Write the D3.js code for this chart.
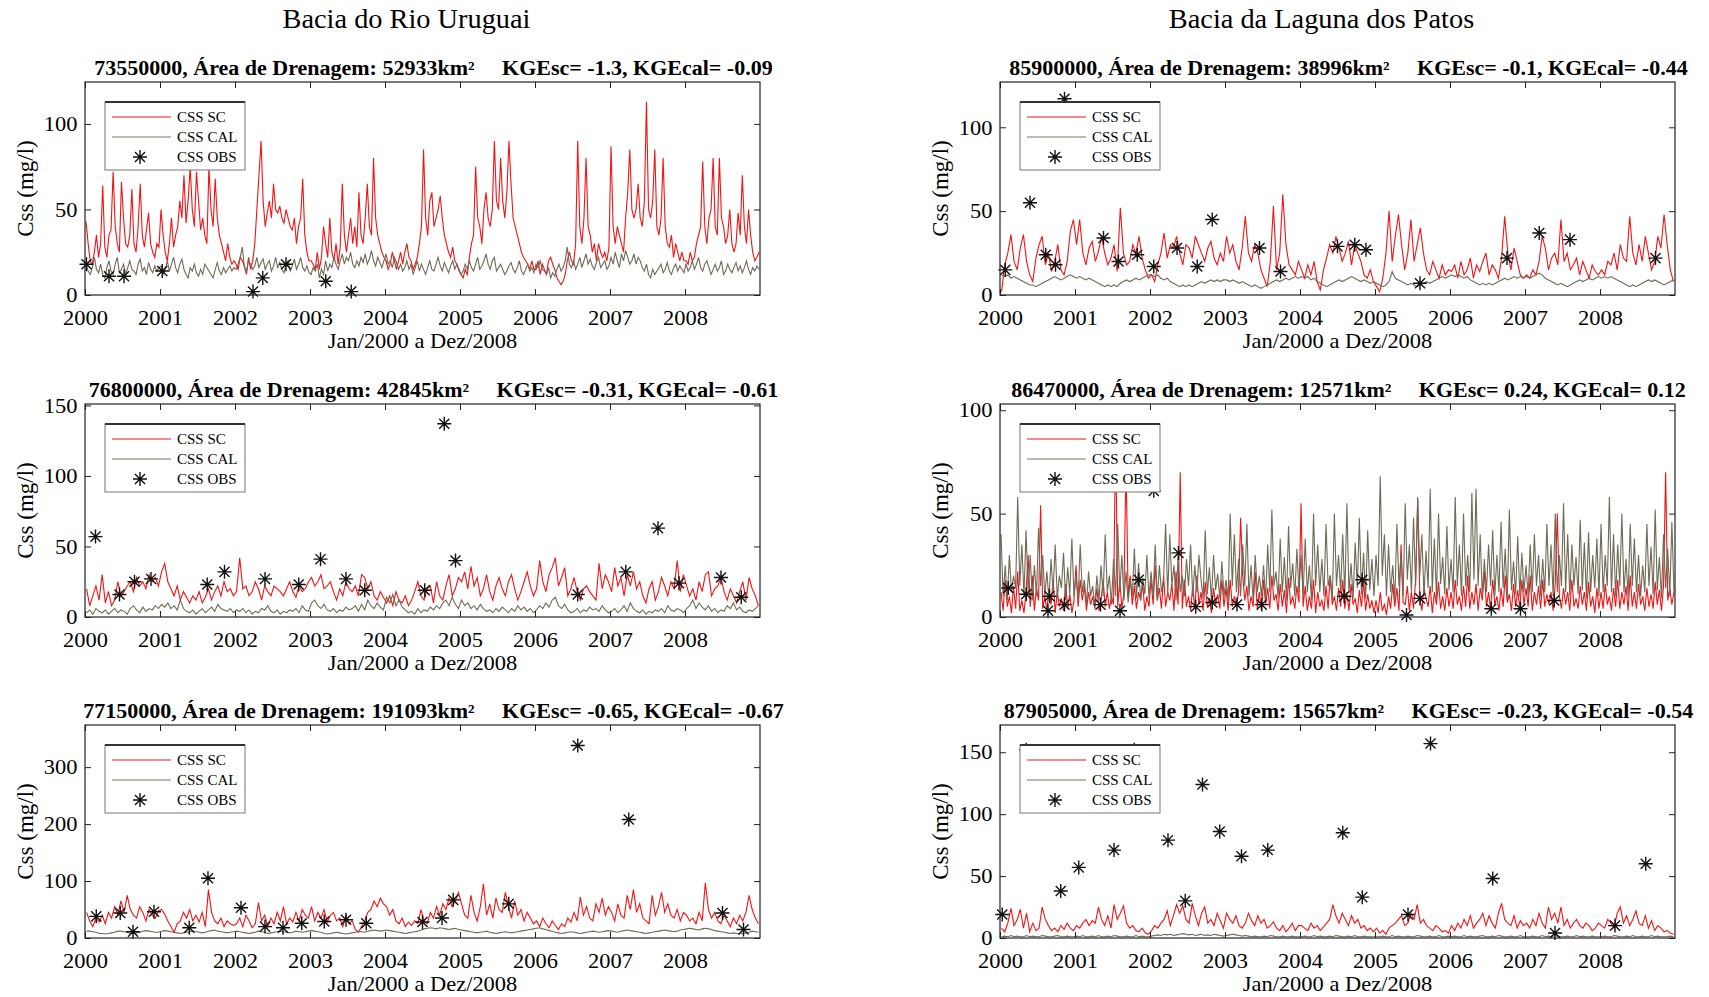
<!DOCTYPE html>
<html>
<head>
<meta charset="utf-8">
<script src="https://cdn.jsdelivr.net/npm/d3@7"></script>
<style>
  body { margin: 0; background: #fff; }
  text { font-family: "Liberation Serif", "Times New Roman", serif; white-space: pre; }
</style>
</head>
<body>
<svg id="chart" width="1709" height="997"></svg>
<script>
// ---- Labels ----
const basinNames = ["Bacia do Rio Uruguai", "Bacia da Laguna dos Patos"];
const stationCodes = ["73550000", "76800000", "77150000", "85900000", "86470000", "87905000"];
const drainageAreas = [52933, 42845, 191093, 38996, 12571, 15657];
const kgeSc = ["-1.3", "-0.31", "-0.65", "-0.1", "0.24", "-0.23"];
const kgeCal = ["-0.09", "-0.61", "-0.67", "-0.44", "0.12", "-0.54"];
const yMaxes = [124.5, 151, 374, 127, 103, 172];
const yTickValues = [[0, 50, 100], [0, 50, 100, 150], [0, 100, 200, 300], [0, 50, 100], [0, 50, 100], [0, 50, 100, 150]];
const yearTicks = [2000, 2001, 2002, 2003, 2004, 2005, 2006, 2007, 2008];
const legendLabels = ["CSS SC", "CSS CAL", "CSS OBS"];
const xLabel = "Jan/2000 a Dez/2008";
const yLabel = "Css (mg/l)";

// ---- Series, Jan/2000 to Dez/2008, evenly spaced in time ----
// 73550000 and 86470000: 36 values per year; the others: 24 values per year
const sc73550000 = [
  43,30,20,18,25,35,22,30,64,28,22,35,38,72,40,30,25,66,45,30,28,35,62,30,25,40,65,35,28,38,48,30,25,22,30,28,
  50,35,25,20,30,45,28,35,40,55,45,70,42,55,75,50,40,72,55,38,45,35,30,75,50,40,68,45,35,30,25,20,30,22,18,20,
  18,15,22,20,17,12,22,15,20,30,50,70,90,55,40,48,55,45,65,50,48,52,45,42,50,45,40,38,45,30,40,45,68,35,25,20,
  20,18,15,25,15,22,40,30,22,45,25,20,30,18,28,65,35,25,35,45,30,40,28,60,35,30,45,65,40,35,80,45,35,30,25,22,
  20,15,18,25,20,15,20,25,18,25,30,22,20,15,18,22,30,40,85,45,35,55,60,40,45,50,58,45,35,30,25,22,28,20,18,15,
  12,10,15,12,22,30,35,75,45,40,30,50,60,45,40,50,90,55,50,80,55,45,60,90,65,45,40,35,30,25,22,20,18,15,20,15,
  15,20,12,18,15,12,20,22,18,15,10,8,6,8,12,20,25,20,18,30,90,40,30,45,80,40,35,25,30,20,30,25,22,25,20,28,
  87,40,30,40,35,30,25,45,60,85,50,45,50,65,45,40,55,113,50,45,55,85,40,35,45,80,40,30,28,35,22,30,25,20,25,20,
  20,18,25,20,22,30,35,40,78,40,30,45,50,80,40,35,80,45,40,30,35,50,30,25,30,48,35,70,40,30,50,35,25,20,22,25
];
const cal73550000 = [
  18,14,12,16,22,15,13,18,12,10,16,20,14,12,18,22,13,15,18,12,16,20,15,14,12,18,21,14,16,12,19,15,13,17,14,16,
  17,12,15,20,14,18,22,16,13,18,21,15,12,10,16,14,18,13,11,15,12,18,16,14,12,10,15,19,14,12,16,13,15,17,14,16,
  15,18,22,28,16,14,20,18,15,17,22,16,19,21,15,18,20,14,17,22,16,19,15,13,18,20,14,17,21,15,18,22,16,14,17,13,
  12,16,14,18,10,15,12,20,14,18,16,22,18,15,20,24,18,22,20,25,18,16,20,17,22,19,24,18,21,26,20,17,22,19,16,20,
  24,18,20,16,22,19,15,18,14,16,20,15,18,12,16,20,14,18,15,12,16,20,15,14,18,22,17,14,19,16,13,17,20,15,18,14,
  12,14,18,15,20,16,14,18,22,15,17,20,24,18,15,20,22,14,16,18,15,12,14,17,19,15,13,16,20,14,12,15,18,14,16,13,
  18,16,20,15,14,12,16,10,13,11,15,18,14,16,20,28,18,16,20,15,18,22,16,20,24,18,21,17,15,19,22,16,18,20,15,17,
  22,18,25,20,16,24,20,26,22,18,20,24,18,22,20,16,14,18,12,10,15,12,14,16,18,13,15,19,14,12,16,18,14,17,15,13,
  18,14,16,20,15,18,22,16,14,18,20,16,12,15,18,14,16,20,12,14,18,15,13,16,19,14,17,13,16,20,15,12,16,14,17,15
];
const obs73550000 = [[2000.02,18],[2000.32,11],[2000.52,11],[2001.03,14],[2002.24,2],[2002.37,10],[2002.68,18],[2003.21,8],[2003.55,2]];

const sc76800000 = [
  20,8,15,22,12,30,10,18,8,12,25,15,18,22,25,18,28,22,25,20,30,25,28,22,
  32,38,25,20,15,22,12,18,14,10,15,12,18,10,14,20,12,18,22,15,25,18,20,15,
  18,42,20,22,15,18,25,20,12,22,18,15,22,20,18,15,20,25,18,14,22,18,20,25,
  28,22,25,30,20,22,25,18,12,20,15,25,20,18,22,15,30,28,20,25,15,12,18,14,
  10,15,8,18,12,10,15,8,12,18,25,15,12,20,22,10,25,15,12,22,30,15,20,28,
  25,32,20,36,22,28,15,20,30,18,12,22,28,20,15,25,30,20,12,18,25,32,22,15,
  20,40,25,18,30,35,42,22,28,35,15,20,28,18,12,20,22,18,15,12,38,20,30,25,
  18,35,22,28,15,30,22,32,20,25,15,10,20,25,12,18,28,22,15,25,20,40,18,30,
  22,15,20,12,25,18,30,32,15,20,22,28,18,12,20,15,10,18,25,12,28,20,15,8
];
const cal76800000 = [
  3,5,2,6,4,3,5,2,4,6,3,5,4,2,6,8,5,3,7,4,6,5,8,6,
  9,7,10,6,8,5,12,6,4,3,5,2,4,6,3,5,7,4,9,6,5,4,6,3,
  5,4,6,3,5,2,4,3,6,5,8,4,3,5,2,4,3,5,4,6,3,8,5,4,
  10,12,8,6,9,5,4,6,3,5,4,7,5,6,8,4,9,5,12,8,6,10,7,5,
  14,10,16,8,12,7,5,3,4,2,6,3,5,4,7,5,8,6,10,12,8,14,9,6,
  12,8,10,6,8,5,9,6,4,5,3,6,4,7,5,3,6,4,8,5,7,4,6,3,
  5,8,6,10,7,12,14,8,6,9,5,3,4,6,3,5,4,7,5,6,4,8,5,3,
  4,6,3,5,8,4,10,6,4,3,5,2,4,3,5,4,6,3,8,5,4,6,5,3,
  6,8,12,6,10,7,5,8,4,6,3,5,4,8,6,10,5,7,4,3,5,4,6,8
];
const obs76800000 = [[2000.14,57],[2000.46,16],[2000.66,25],[2000.88,27],[2001.63,23],[2001.86,32],[2002.40,27],[2002.85,23],[2003.14,41],[2003.48,27],[2003.73,19],[2004.53,19],[2004.79,137],[2004.94,40],[2006.57,16],[2007.21,32],[2007.64,63],[2007.92,24],[2008.48,28],[2008.75,14]];

const sc77150000 = [
  45,30,20,35,28,40,25,45,35,55,40,65,45,75,50,40,35,55,45,30,50,40,35,48,
  50,42,30,20,10,25,30,45,35,50,30,40,28,45,20,85,45,30,25,35,20,30,25,22,
  25,35,20,40,30,18,25,62,30,40,20,35,25,45,30,55,25,35,28,45,30,50,40,35,
  55,30,45,35,50,28,40,45,30,35,20,40,25,30,15,10,20,30,45,50,65,55,70,60,
  55,40,50,30,25,35,20,28,22,30,25,50,30,25,45,35,55,40,60,50,70,55,65,80,
  60,40,35,75,45,30,55,95,40,60,35,70,50,45,80,55,35,65,40,50,30,45,35,25,
  30,20,35,25,18,30,22,15,25,20,35,28,45,30,72,40,55,35,30,60,45,70,40,55,
  45,30,60,40,35,75,50,85,45,60,35,30,25,75,40,55,80,45,60,40,35,50,30,45,
  40,30,35,25,45,30,97,50,35,45,30,25,40,30,20,35,25,40,30,45,75,50,35,25
];
const cal77150000 = [
  12,12,11,10,8,8,7,8,9,10,12,12,11,10,8,8,9,10,12,13,12,11,10,10,
  12,13,12,11,10,9,8,9,10,11,12,11,10,9,10,12,13,14,12,11,10,9,10,11,
  12,11,10,9,8,9,10,12,11,10,8,9,10,11,12,11,10,9,10,12,11,10,11,12,
  13,12,11,10,8,7,8,9,10,9,8,7,8,9,10,12,11,10,12,13,14,13,12,13,
  14,13,12,11,10,9,8,9,10,11,12,14,16,17,18,17,16,18,17,16,15,16,17,15,
  14,13,12,11,10,9,10,11,12,10,9,8,9,10,11,10,9,10,11,12,13,14,15,16,
  17,18,16,15,13,12,10,9,8,9,10,11,10,9,8,9,10,11,12,11,10,11,12,13,
  12,11,10,12,13,14,13,12,11,10,9,8,9,10,11,12,13,14,13,12,11,12,14,15,
  16,17,16,15,14,16,17,16,15,13,12,11,10,9,8,9,8,7,8,9,10,12,11,10
];
const obs77150000 = [[2000.15,38],[2000.47,44],[2000.64,11],[2000.92,46],[2001.39,18],[2001.64,105],[2002.08,53],[2002.40,20],[2002.64,18],[2002.89,26],[2003.19,29],[2003.48,32],[2003.75,26],[2004.50,28],[2004.76,35],[2004.91,67],[2005.65,60],[2006.57,338],[2007.25,208],[2008.50,44],[2008.78,15]];

const sc85900000 = [
  2,18,25,36,20,15,28,36,20,12,8,22,30,35,18,25,14,20,30,15,12,20,38,45,
  30,45,25,18,28,32,20,26,35,25,18,22,30,14,52,25,18,20,30,25,35,22,15,10,
  12,8,18,25,37,22,30,28,35,25,18,30,28,22,35,30,25,20,28,32,22,18,25,20,
  35,25,30,20,15,28,47,25,20,30,25,15,10,5,20,53,15,25,60,30,18,15,12,20,
  15,10,18,12,20,8,3,15,22,30,25,35,28,20,25,32,18,30,25,20,12,10,15,8,
  5,2,10,25,50,20,35,48,30,15,25,45,20,30,40,25,15,12,20,15,10,18,12,15,
  14,18,10,20,12,15,22,10,18,14,20,25,12,18,15,10,22,47,25,15,28,20,12,10,
  12,10,15,12,20,35,28,15,22,25,18,45,20,25,15,18,22,12,20,15,10,18,14,12,
  15,12,20,18,25,15,30,22,20,47,25,18,30,20,35,25,15,20,35,28,48,30,15,8
];
const cal85900000 = [
  12,11,12,10,11,10,9,8,7,6,6,5,6,7,8,9,10,11,10,9,10,11,12,11,
  10,11,10,9,10,9,8,7,6,5,6,5,6,5,7,8,9,8,9,10,9,10,11,12,
  12,11,12,10,9,10,8,7,6,5,6,5,6,5,6,7,8,7,8,9,8,9,8,9,
  9,8,9,8,7,8,7,6,5,6,5,4,5,6,7,8,9,8,9,10,9,10,11,10,
  11,10,11,9,10,8,7,6,5,6,7,8,9,8,9,10,11,10,9,8,9,8,7,8,
  7,6,5,6,8,14,10,9,8,7,6,7,6,5,6,7,8,7,8,9,10,11,10,11,
  12,11,12,11,10,11,9,8,7,6,7,6,7,6,7,8,9,10,9,10,11,10,11,10,
  11,10,11,12,13,12,10,9,8,7,6,7,6,5,6,7,8,9,8,9,10,9,10,11,
  10,11,10,11,10,9,8,7,6,5,6,5,6,7,8,9,8,9,8,7,6,7,8,9
];
const obs85900000 = [[2000.07,15],[2000.40,55],[2000.61,24],[2000.74,18],[2000.86,117],[2001.38,34],[2001.58,20],[2001.83,24],[2002.05,17],[2002.36,28],[2002.63,17],[2002.83,45],[2003.46,28],[2003.74,14],[2004.50,29],[2004.73,30],[2004.88,27],[2005.60,7],[2006.76,22],[2007.19,37],[2007.60,33],[2008.74,22]];

const sc86470000 = [
  12,3,18,5,10,2,15,4,22,3,8,2,12,30,5,20,3,14,8,54,4,10,3,14,6,18,2,12,5,9,3,16,4,11,2,8,
  25,5,18,8,15,3,12,6,10,4,14,3,8,18,5,12,4,10,6,90,5,18,4,12,75,10,20,6,15,4,12,8,16,3,10,5,
  18,6,25,8,14,4,20,5,12,8,16,3,22,6,70,4,18,5,10,3,15,4,20,6,12,3,17,5,9,2,14,6,11,4,18,5,
  14,3,18,5,10,6,12,48,20,8,15,3,10,5,22,4,12,3,18,6,14,4,20,8,11,3,16,5,13,2,19,6,10,4,15,7,
  55,5,15,3,10,4,18,2,12,5,8,3,15,4,20,6,10,3,14,5,18,4,12,3,16,6,9,2,13,5,17,3,11,4,8,2,
  8,2,12,3,6,1,10,4,16,5,14,3,35,7,6,15,3,12,4,18,57,10,3,14,9,5,15,2,12,6,17,4,10,3,14,5,
  12,4,18,6,10,3,15,5,20,4,12,6,16,3,14,8,22,5,12,4,18,6,10,3,14,5,20,7,11,3,16,5,13,4,18,6,
  14,5,20,3,12,6,15,4,18,5,11,6,12,3,16,50,10,4,14,6,12,3,18,5,9,4,15,6,12,3,17,5,10,2,14,4,
  12,4,16,6,10,3,14,5,18,4,12,6,15,3,20,5,12,4,16,6,10,3,14,5,11,4,17,6,13,3,15,70,8,14,6,12
];
const cal86470000 = [
  40,10,25,8,30,12,20,14,58,15,35,10,42,12,30,8,25,10,43,15,30,10,22,8,28,12,35,9,20,14,31,8,24,11,38,10,
  20,8,35,12,18,6,22,10,15,5,20,8,25,10,40,12,20,6,28,10,45,12,30,8,22,7,18,10,33,9,26,8,19,11,30,9,
  22,10,35,8,25,12,18,45,10,40,15,25,8,30,12,20,10,28,15,35,10,25,12,30,18,9,42,11,24,8,30,13,21,9,27,10,
  18,8,50,15,40,12,28,10,35,15,45,10,25,8,30,12,20,10,25,8,35,12,52,15,22,9,38,12,29,8,44,14,26,10,33,12,
  30,10,38,12,25,8,50,15,35,12,28,10,45,15,20,8,50,15,30,12,40,10,55,12,26,9,36,14,48,11,31,9,42,13,28,10,
  30,15,68,20,40,10,35,12,25,8,45,15,30,10,55,18,35,12,48,15,58,20,40,10,32,14,62,12,38,9,50,16,29,11,44,13,
  28,12,58,15,35,10,50,15,30,12,60,18,62,15,40,10,28,12,35,15,42,10,30,12,46,14,33,9,52,13,27,11,39,10,31,12,
  25,10,35,12,40,15,30,10,28,12,45,15,35,10,50,12,30,15,55,12,40,10,35,15,29,11,47,13,36,9,41,12,30,14,38,10,
  45,12,30,15,58,12,40,10,35,15,50,12,28,10,45,15,38,12,30,10,25,12,45,15,34,11,52,13,29,9,40,14,33,10,46,12
];
const obs86470000 = [[2000.11,14],[2000.35,11],[2000.64,3],[2000.66,10],[2000.86,6],[2001.34,6],[2001.60,3],[2001.85,18],[2002.05,61],[2002.38,31],[2002.61,5],[2002.83,7],[2003.16,6],[2003.49,6],[2004.59,10],[2004.83,18],[2005.42,1],[2005.60,9],[2006.55,4],[2006.94,4],[2007.39,8]];

const sc87905000 = [
  8,5,12,24,10,15,23,8,20,5,12,6,8,25,15,10,6,8,5,10,7,12,8,6,
  10,8,12,15,10,14,12,25,15,10,18,8,27,15,20,26,12,8,10,6,5,8,4,3,
  6,10,8,12,15,22,10,18,27,20,26,15,12,28,18,10,20,25,12,15,10,20,14,8,
  20,15,12,18,10,8,12,20,14,10,18,12,15,8,10,13,8,6,10,5,8,12,6,10,
  10,8,6,12,8,10,6,9,12,15,27,18,12,20,15,10,18,12,15,8,10,6,8,5,
  8,4,6,3,8,10,12,15,18,10,12,20,15,27,12,15,10,8,6,10,8,5,6,4,
  10,6,12,8,15,10,18,8,12,15,20,10,18,12,8,20,28,15,12,10,18,8,14,10,
  12,8,15,10,20,12,8,25,15,20,12,25,10,15,8,12,15,10,8,12,10,6,8,12,
  10,8,15,12,8,20,25,12,18,10,15,22,12,10,18,8,14,6,10,8,5,6,4,3
];
const cal87905000 = [
  1,1.5,1,2,1,1.5,1,1,2,1,1.5,1,1,2,1.5,1,1,1.5,2,1,1,1.5,1,1,
  1.5,1,2,1,1,1.5,1,2,1,1,1.5,1,2,1.5,1,1,1.5,1,1,2,1,1.5,1,1,
  1.5,2,2.5,2,3,2.5,3,2,2.5,3,3.5,3,2.5,3,2,2.5,3,2,2.5,2,3,2.5,2,1.5,
  2,2.5,3,2.5,2,1.5,2,1.5,1,1.5,1,1,1.5,1,2,1.5,1,1,1.5,1,1,1.5,1,1,
  1,1.5,1,1,2,1,1.5,1,1,1.5,1,2,1.5,1,1,1.5,1,2,1,1,1.5,1,1,1,
  1,1,1.5,1,1,2,1,1.5,1,1,1.5,1,1,2,1.5,1,1,1.5,1,1,2,1,1,1.5,
  1,1.5,1,1,2,1,1.5,1,1,1.5,2,1,1,1.5,1,2,1.5,1,1,1.5,1,1,2,1,
  1,1,1.5,1,1,2,1,1.5,1,2,1.5,1,1,1.5,1,1,2,1,1.5,1,1,1.5,1,1,
  1,1.5,1,1,2,1.5,1,1,1.5,1,2,1,1,1.5,1,1,2,1,1.5,1,1,1,1.5,1
];
const obs87905000 = [[2000.03,19],[2000.35,152],[2000.81,38],[2001.05,57],[2001.52,71],[2001.79,152],[2002.24,79],[2002.47,30],[2002.70,124],[2002.93,86],[2003.22,66],[2003.57,71],[2004.57,85],[2004.83,33],[2005.44,19],[2005.74,157],[2006.57,48],[2007.40,4],[2008.20,10],[2008.61,60]];

const scSeries = [sc73550000, sc76800000, sc77150000, sc85900000, sc86470000, sc87905000];
const calSeries = [cal73550000, cal76800000, cal77150000, cal85900000, cal86470000, cal87905000];
const obsSeries = [obs73550000, obs76800000, obs77150000, obs85900000, obs86470000, obs87905000];

// ---- Drawing ----
const svg = d3.select("#chart");
const W = 675, H = 213;
const colLeft = [85, 1000];
const rowTop = [82, 404, 725];
const SC_COLOR = "#f01414";
const CAL_COLOR = "#6f6a55";
const TICK_FONT = 21, SX = 1.07;

// text with a slight horizontal stretch, anchored at (x, y)
function addText(parent, x, y, str, size, opts = {}) {
  const g = parent.append("g").attr("transform", `translate(${x},${y}) scale(${opts.sx || SX},1)${opts.rotate ? ` rotate(${opts.rotate})` : ""}`);
  return g.append("text")
    .attr("text-anchor", opts.anchor || "middle")
    .attr("font-size", size)
    .attr("font-weight", opts.bold ? "bold" : "normal")
    .attr("fill", "#000")
    .text(str);
}

function starPath(r) {
  const d = r * 0.72;
  return `M${-r},0H${r}M0,${-r}V${r}M${-d},${-d}L${d},${d}M${-d},${d}L${d},${-d}`;
}

basinNames.forEach((name, c) => {
  addText(svg, colLeft[c] + W / 2 - 16, 28, name, 27, { sx: 1.05 });
});

stationCodes.forEach((code, k) => {
  const col = Math.floor(k / 3), row = k % 3;
  const g = svg.append("g").attr("transform", `translate(${colLeft[col]},${rowTop[row]})`);
  const x = d3.scaleLinear().domain([2000, 2009]).range([0, W]);
  const y = d3.scaleLinear().domain([0, yMaxes[k]]).range([H, 0]);

  const clipId = "clip" + k;
  g.append("clipPath").attr("id", clipId).append("rect").attr("width", W).attr("height", H);
  const plot = g.append("g").attr("clip-path", `url(#${clipId})`);

  const lineOf = (arr) => {
    const n = arr.length;
    return d3.line().x((d, i) => x(2000 + (i + 0.5) * 9 / n)).y(d => y(d))(arr);
  };

  plot.append("path").attr("d", lineOf(scSeries[k]))
    .attr("fill", "none").attr("stroke", SC_COLOR).attr("stroke-width", 1.1);
  plot.append("path").attr("d", lineOf(calSeries[k]))
    .attr("fill", "none").attr("stroke", CAL_COLOR).attr("stroke-width", 1.1);

  g.append("g").selectAll("path").data(obsSeries[k]).join("path")
    .attr("transform", d => `translate(${x(d[0])},${y(d[1])})`)
    .attr("d", starPath(7))
    .attr("fill", "none").attr("stroke", "#111").attr("stroke-width", 1.4);

  // axes with inward ticks on all four sides
  const axB = g.append("g").attr("transform", `translate(0,${H})`)
    .call(d3.axisBottom(x).tickValues(yearTicks).tickFormat(d3.format("d")).tickSize(-6).tickPadding(15));
  g.append("g").call(d3.axisTop(x).tickValues(yearTicks).tickFormat("").tickSize(-6));
  const axL = g.append("g")
    .call(d3.axisLeft(y).tickValues(yTickValues[k]).tickSize(-6).tickPadding(7));
  g.append("g").attr("transform", `translate(${W},0)`)
    .call(d3.axisRight(y).tickValues(yTickValues[k]).tickFormat("").tickSize(-6));
  g.selectAll(".domain").remove();
  g.selectAll(".tick line").attr("stroke", "#222");
  [axB, axL].forEach(a => a.selectAll("text")
    .attr("font-size", TICK_FONT).attr("font-family", "Liberation Serif, serif")
    .attr("fill", "#000").attr("transform", `scale(${SX},1)`));

  g.append("rect").attr("width", W).attr("height", H)
    .attr("fill", "none").attr("stroke", "#222").attr("stroke-width", 1.2);

  // legend
  const lg = g.append("g").attr("transform", "translate(20,20)");
  lg.append("rect").attr("width", 140).attr("height", 68).attr("fill", "#fff").attr("stroke", "#777").attr("stroke-width", 1);
  lg.append("line").attr("x1", 0).attr("x2", 140).attr("y1", 0).attr("y2", 0).attr("stroke", "#333").attr("stroke-width", 2.2);
  const rows = [15, 35, 55];
  lg.append("line").attr("x1", 7).attr("x2", 66).attr("y1", rows[0]).attr("y2", rows[0]).attr("stroke", SC_COLOR);
  lg.append("line").attr("x1", 7).attr("x2", 66).attr("y1", rows[1]).attr("y2", rows[1]).attr("stroke", "#a8a493").attr("stroke-width", 1.5);
  lg.append("path").attr("transform", `translate(35,${rows[2]})`).attr("d", starPath(7))
    .attr("fill", "none").attr("stroke", "#111").attr("stroke-width", 1.4);
  legendLabels.forEach((lab, i) => addText(lg, 72, rows[i] + 5, lab, 15, { anchor: "start", sx: 1.0 }));

  // titles and axis labels
  const title = `${code}, Área de Drenagem: ${drainageAreas[k]}km²     KGEsc= ${kgeSc[k]}, KGEcal= ${kgeCal[k]}`;
  addText(g, W / 2 + 11, -7, title, 20, { bold: true, sx: 1.1 });
  addText(g, W / 2, H + 53, xLabel, TICK_FONT);
  addText(g, -52, H / 2, yLabel, 23, { rotate: -90, sx: 1.0 });
});
</script>
</body>
</html>
